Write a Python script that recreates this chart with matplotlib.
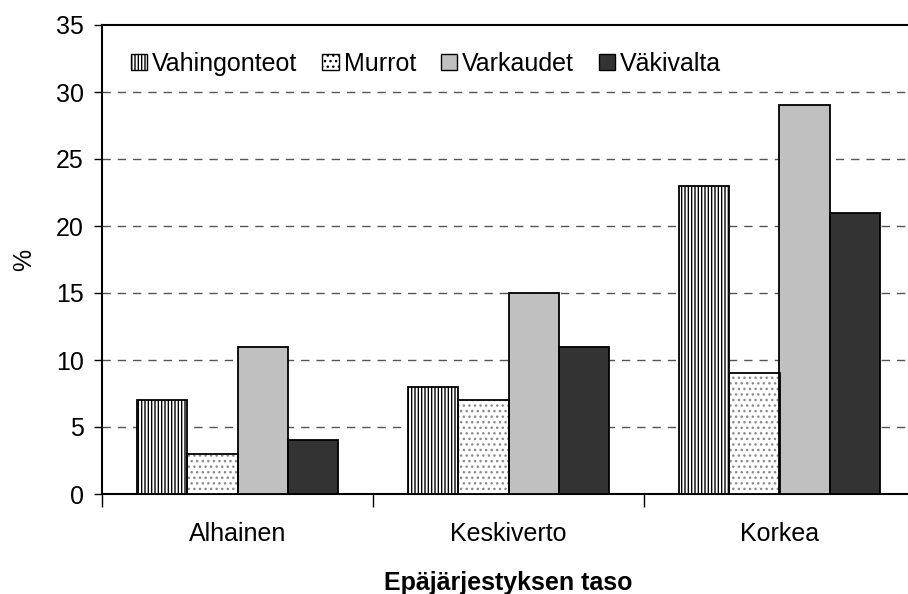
import matplotlib
matplotlib.use('Agg')
import matplotlib.pyplot as plt
import numpy as np

plt.rcParams['font.family'] = ['Liberation Sans', 'DejaVu Sans']
plt.rcParams['hatch.linewidth'] = 1.0

categories = ['Alhainen', 'Keskiverto', 'Korkea']
series = ['Vahingonteot', 'Murrot', 'Varkaudet', 'Väkivalta']
vahingonteot = [7, 8, 23]
murrot = [3, 7, 9]
varkaudet = [11, 15, 29]
vakivalta = [4, 11, 21]
yticks = [0, 5, 10, 15, 20, 25, 30, 35]

values = [vahingonteot, murrot, varkaudet, vakivalta]
faces = ['white', 'white', '#c0c0c0', '#333333']
hatches = ['|||||', '...', None, None]
hatch_colors = ['black', '#8a8a8a', 'black', 'black']

fig = plt.figure(figsize=(9.08, 5.94), dpi=100)
ax = fig.add_axes([102 / 908, 100 / 594, 813 / 908, 469 / 594])

x = np.arange(len(categories))
w = 0.185
for i, (name, vals) in enumerate(zip(series, values)):
    pos = x + (i - 1.5) * w
    # hatch drawn in its own colour, outline drawn on top in black
    ax.bar(pos, vals, w, color=faces[i], hatch=hatches[i],
           edgecolor=hatch_colors[i], linewidth=0, zorder=3)
    ax.bar(pos, vals, w, fill=False, edgecolor='black', linewidth=1.3, zorder=4)

# legend proxies
handles = [plt.Rectangle((0, 0), 1, 1, facecolor=faces[i], hatch=hatches[i],
                         edgecolor='black', linewidth=1.0) for i in range(4)]

ax.set_xlim(-0.5, 2.5)
ax.set_ylim(0, 35)
ax.set_yticks(yticks)
ax.tick_params(axis='y', labelsize=18, length=6, width=1, pad=7, direction='out')
ax.set_xticks([-0.5, 0.5, 1.5, 2.5])
ax.set_xticklabels([])
ax.set_xticks(x, minor=True)
ax.set_xticklabels(categories, minor=True, fontsize=18)
ax.tick_params(axis='x', which='major', length=9, width=1)
ax.tick_params(axis='x', which='minor', length=0, pad=20)

for yv in yticks[1:-1]:
    ax.axhline(yv, color='#555555', linestyle=(0, (6, 5)), linewidth=1, zorder=1)

for s in ['left', 'bottom', 'top']:
    ax.spines[s].set_linewidth(1.5)
ax.spines['right'].set_visible(False)

ax.set_ylabel('%', fontsize=18, labelpad=14)
ax.set_xlabel('Epäjärjestyksen taso', fontsize=18, fontweight='bold', labelpad=18)

ax.legend(handles, series, loc='upper left', bbox_to_anchor=(0.017, 0.975), ncol=4,
          frameon=False, fontsize=18, handlelength=0.65, handleheight=0.65,
          handletextpad=0.2, columnspacing=1.0, borderaxespad=0.2)

fig.savefig('out.png', dpi=100)
